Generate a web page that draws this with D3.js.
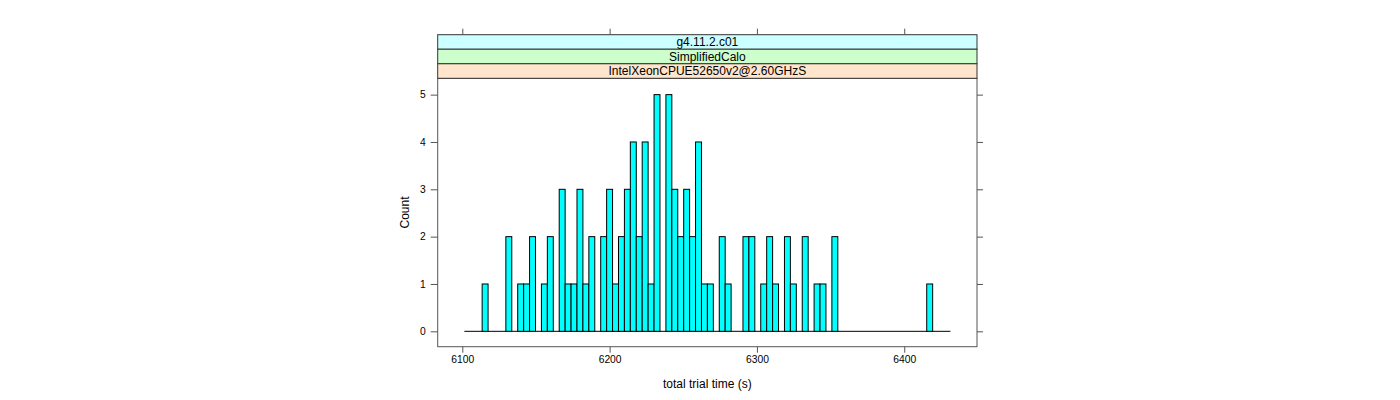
<!DOCTYPE html>
<html><head><meta charset="utf-8">
<script src="https://cdn.jsdelivr.net/npm/d3@7"></script>
<style>body{margin:0;background:#fff}</style>
</head><body>
<svg id="c" width="1400" height="400"></svg>
<script>
// ---- data ----
const binStart = 6101.4;
const binWidth = 4.024;
const counts = [0,0,0,1,0,0,0,2,0,1,1,2,0,1,2,0,3,1,1,3,1,2,0,2,3,1,2,3,4,2,4,1,5,0,5,3,2,3,2,4,1,1,0,2,1,0,0,2,2,0,1,2,1,0,2,1,0,2,0,1,1,0,2,0,0,0,0,0,0,0,0,0,0,0,0,0,0,0,1,0,0,0];
const stripLabels = ["g4.11.2.c01", "SimplifiedCalo", "IntelXeonCPUE52650v2@2.60GHzS"];
const stripColors = ["#ccffff", "#ccffcc", "#ffe5cc"];
const xTicks = [6100, 6200, 6300, 6400];
const yTicks = [0, 1, 2, 3, 4, 5];
const xLabel = "total trial time (s)";
const yLabel = "Count";

// ---- layout ----
const L = 437.7, R = 977, T = 78.3, B = 346.7;
const stripTop = 34.7, stripH = (T - stripTop) / 3;
const svg = d3.select("#c");
const font = "'Liberation Sans', Arial, Helvetica, sans-serif";

const x = d3.scaleLinear().domain([6083.3, 6449.4]).range([L, R]);
const y = d3.scaleLinear().domain([-0.325, 5.345]).range([B, T]);

const bins = counts.map((c, i) => ({x0: binStart + i * binWidth, x1: binStart + (i + 1) * binWidth, c}));

// baseline across all bins
svg.append("line")
  .attr("x1", x(bins[0].x0)).attr("x2", x(bins[bins.length - 1].x1))
  .attr("y1", y(0)).attr("y2", y(0))
  .attr("stroke", "#000").attr("stroke-width", 1);

// bars
svg.append("g").selectAll("rect").data(bins.filter(d => d.c > 0)).join("rect")
  .attr("x", d => x(d.x0)).attr("width", d => x(d.x1) - x(d.x0))
  .attr("y", d => y(d.c)).attr("height", d => y(0) - y(d.c))
  .attr("fill", "#00ffff").attr("stroke", "#000").attr("stroke-width", 1);

// panel box
svg.append("rect").attr("x", L).attr("y", T).attr("width", R - L).attr("height", B - T)
  .attr("fill", "none").attr("stroke", "#555").attr("stroke-width", 1);

// strips (outermost on top)
stripLabels.forEach((lab, i) => {
  const yy = stripTop + i * stripH;
  svg.append("rect").attr("x", L).attr("y", yy).attr("width", R - L).attr("height", stripH)
    .attr("fill", stripColors[i]).attr("stroke", "#333").attr("stroke-width", 1);
  svg.append("text").attr("x", (L + R) / 2).attr("y", yy + stripH / 2).attr("dy", "0.36em")
    .attr("text-anchor", "middle").attr("font-family", font).attr("font-size", 12)
    .attr("fill", "#000").text(lab);
});

// axes
const tick = 6;
const axB = d3.axisBottom(x).tickValues(xTicks).tickSize(tick).tickPadding(3).tickFormat(d3.format("d"));
const axT = d3.axisTop(x).tickValues(xTicks).tickSize(tick).tickFormat("");
const axL = d3.axisLeft(y).tickValues(yTicks).tickSize(7).tickPadding(5).tickFormat(d3.format("d"));
const axR = d3.axisRight(y).tickValues(yTicks).tickSize(tick).tickFormat("");

function style(g) {
  g.select(".domain").remove();
  g.selectAll(".tick line").attr("stroke", "#555");
  g.selectAll(".tick text").attr("font-family", font).attr("font-size", 10.3).attr("fill", "#000");
}
svg.append("g").attr("transform", `translate(0,${B})`).call(axB).call(style);
svg.append("g").attr("transform", `translate(0,${stripTop})`).call(axT).call(style);
svg.append("g").attr("transform", `translate(${L},0)`).call(axL).call(style);
svg.append("g").attr("transform", `translate(${R},0)`).call(axR).call(style);

// axis titles
svg.append("text").attr("x", (L + R) / 2).attr("y", 387.5).attr("text-anchor", "middle")
  .attr("font-family", font).attr("font-size", 12).text(xLabel);
svg.append("text").attr("transform", `translate(409,${(T + B) / 2}) rotate(-90)`)
  .attr("text-anchor", "middle").attr("font-family", font).attr("font-size", 12).text(yLabel);
</script>
</body></html>
